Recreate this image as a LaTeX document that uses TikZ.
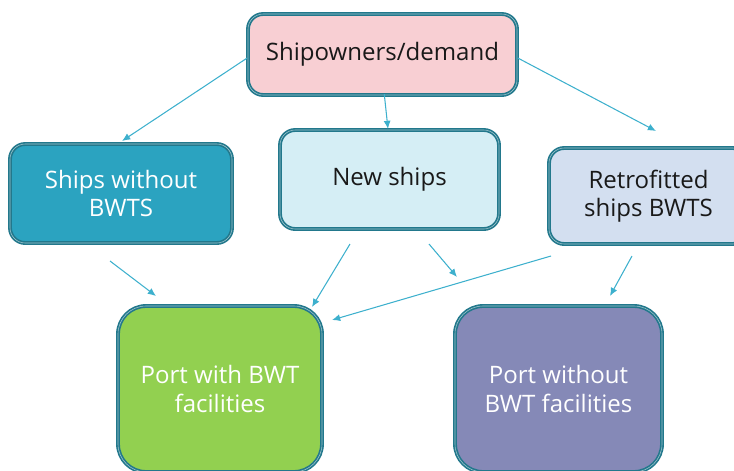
\documentclass[tikz,border=0pt]{standalone}
\usepackage{fontspec}
\setmainfont{Open Sans}
\usepackage{tikz}
\usetikzlibrary{arrows.meta}
\definecolor{edgeteal}{HTML}{22788C}
\definecolor{arrowblue}{HTML}{3DB0CD}
\definecolor{pinkbox}{HTML}{F8CFD3}
\definecolor{tealbox}{HTML}{2BA3C0}
\definecolor{icebox}{HTML}{D5EEF5}
\definecolor{greybluebox}{HTML}{D3DFF0}
\definecolor{greenbox}{HTML}{92D050}
\definecolor{violetbox}{HTML}{8589B7}
\tikzset{%
    box/.style={%
        draw=edgeteal, double=edgeteal!45!white, double distance=0.5pt,
        line width=1.4pt, rounded corners=#1, align=center, inner sep=0pt,
        font=\fontsize{20.5}{24}\selectfont
    },
    box/.default=13pt,
    link/.style={-{Latex[length=7pt,width=6pt]}, line width=0.9pt, arrowblue}
}

\begin{document}
\begin{tikzpicture}[x=0.03cm,y=-0.03cm]
    \useasboundingbox (0,0) rectangle (734,470);
    \clip (0,0) rectangle (734,470);

    \node[box, fill=pinkbox, text=black!90, minimum width=8.07cm, minimum height=2.43cm] (demand) at (382.5,54.5) {Shipowners/demand};
    \node[box, fill=tealbox, text=white, minimum width=6.66cm, minimum height=2.97cm] (nobwts) at (121,193.5) {Ships without\\BWTS};
    \node[box, fill=icebox, text=black!90, minimum width=6.57cm, minimum height=2.97cm] (newships) at (389.5,179.5) {New ships};
    \node[box, fill=greybluebox, text=black!90, minimum width=5.97cm, minimum height=2.88cm] (retro) at (648.5,196) {Retrofitted\\ships BWTS};
    \node[box=24pt, fill=greenbox, text=white, minimum width=6.12cm, minimum height=4.98cm] (portbwt) at (220,389) {Port with BWT\\facilities};
    \node[box=24pt, fill=violetbox, text=white, minimum width=6.21cm, minimum height=4.98cm] (portnobwt) at (558.5,389) {Port without\\BWT facilities};

    % loose arrow ends
    \coordinate (t1) at (122,141);
    \coordinate (t2) at (388,129);
    \coordinate (t3) at (656,131);
    \coordinate (s4) at (110,261);  \coordinate (t4) at (156,296);
    \coordinate (s5) at (350,244);  \coordinate (t5) at (312,307);
    \coordinate (s6) at (429,244);  \coordinate (t6) at (457,277);
    \coordinate (s7) at (551,256);  \coordinate (t7) at (332,320);
    \coordinate (s8) at (632,256);  \coordinate (t8) at (610,296);

    \draw[link] ([yshift=-3]demand.west) -- (t1);
    \draw[link] ([xshift=1.5,yshift=1.5]demand.south) -- (t2);
    \draw[link] ([yshift=-3]demand.east) -- (t3);
    \draw[link] (s4) -- (t4);
    \draw[link] (s5) -- (t5);
    \draw[link] (s6) -- (t6);
    \draw[link] (s7) -- (t7);
    \draw[link] (s8) -- (t8);
\end{tikzpicture}
\end{document}
